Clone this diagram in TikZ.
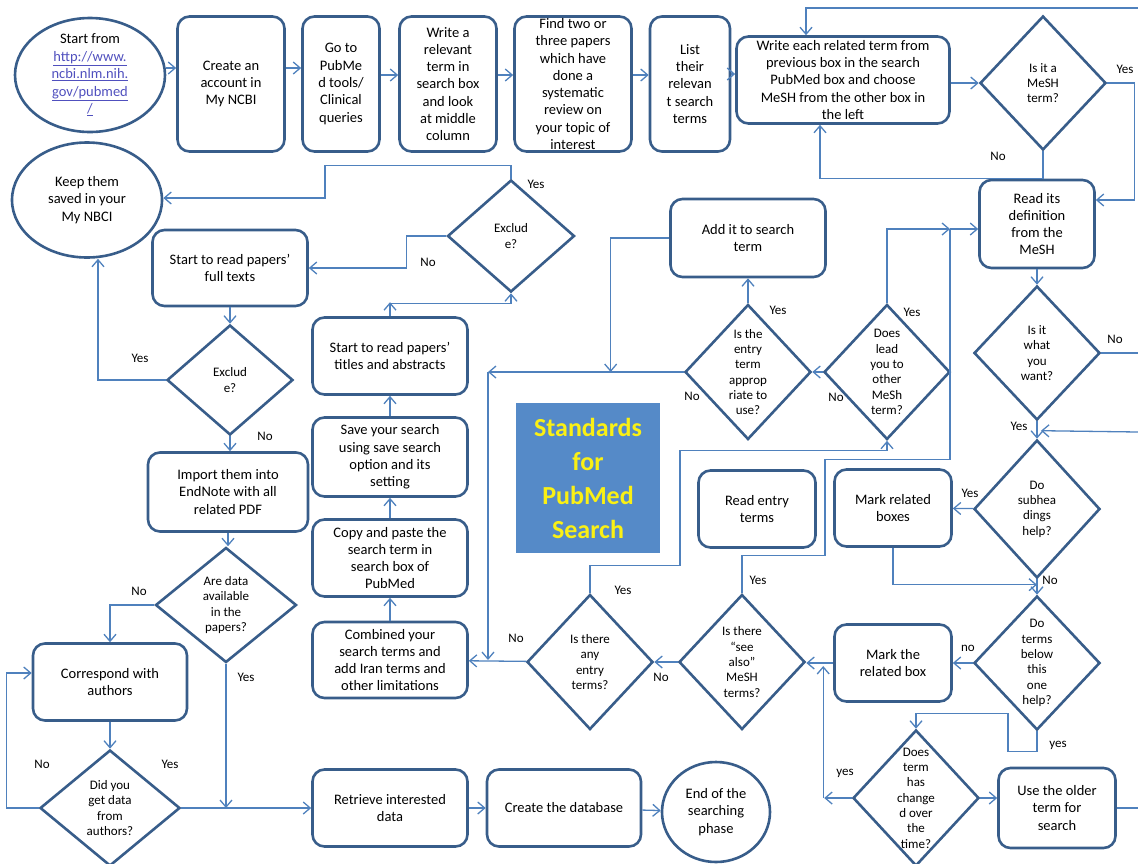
\documentclass[tikz,border=0pt]{standalone}
\usepackage{fontspec}
\setmainfont{Carlito}
\usepackage{xcolor}
\usepackage{tikz}
\usetikzlibrary{arrows.meta,shapes.geometric}
\definecolor{boxc}{RGB}{56,93,138}
\definecolor{linec}{RGB}{79,129,189}
\definecolor{stdfill}{RGB}{85,138,200}
\definecolor{stdtext}{RGB}{250,240,20}
\definecolor{linkc}{RGB}{80,80,190}

\begin{document}
\begin{tikzpicture}[x=1pt,y=-1pt]
    \tikzstyle{box}=[draw=boxc, line width=2.6pt, rounded corners=12pt, align=center, inner sep=2pt, font=\fontsize{14.5}{17.3}\selectfont]
\tikzstyle{dia}=[draw=boxc, line width=2.6pt, diamond, inner sep=0pt]
\tikzstyle{dtext}=[align=center, inner sep=0pt, font=\fontsize{13}{15.3}\selectfont]
\tikzstyle{btext}=[align=center, inner sep=0pt, font=\fontsize{14.5}{17.3}\selectfont]
\tikzstyle{oval}=[draw=boxc, line width=2.6pt, ellipse, inner sep=0pt]
\tikzstyle{lbl}=[inner sep=0pt, font=\fontsize{13}{15}\selectfont]
\tikzstyle{arr}=[draw=linec, line width=1.3pt, -{Straight Barb[length=7pt,width=12pt]}]
\tikzstyle{ln}=[draw=linec, line width=1.3pt]
\tikzstyle{std}=[fill=stdfill, text=stdtext, align=center, font=\fontsize{26}{34}\selectfont\bfseries]
\useasboundingbox (0,0) rectangle (1138,863);
\node[oval, minimum width=150, minimum height=114,
    label={[btext, font=\fontsize{14.5}{17.5}\selectfont]center:{Start from\\
    \textcolor{linkc}{\underline{http://www.}}\\
    \textcolor{linkc}{\underline{ncbi.nlm.nih.}}\\
    \textcolor{linkc}{\underline{gov/pubmed}}\\
    \textcolor{linkc}{\underline{/}}}}] (start) at (90,75) {};
\node[box, minimum width=107, minimum height=135] (account) at (231,84) {Create an\\account in\\My NCBI};
\node[box, minimum width=77, minimum height=135] (pubmed) at (341,84) {Go to\\PubMe\\d tools/\\Clinical\\queries};
\node[box, minimum width=97, minimum height=135] (relevant) at (448,84) {Write a\\relevant\\term in\\search box\\and look\\at middle\\column};
\node[box, minimum width=117, minimum height=135, label={[btext]center:{Find two or\\three papers\\which have\\done a\\systematic\\review on\\your topic of\\interest}}] (papers) at (573,84) {};
\node[box, minimum width=80, minimum height=135] (list) at (690,84) {List\\their\\relevan\\t search\\terms};
\node[box, minimum width=213, minimum height=87] (related) at (843,80) {Write each related term from\\previous box in the search\\PubMed box and choose\\MeSH from the other box in\\the left};
\node[dia, minimum width=126, minimum height=134, label={[dtext]center:{Is it a\\MeSH\\term?}}] (mesh) at (1043,83) {};
\node[box, minimum width=115, minimum height=88] (define) at (1037,224) {Read its\\definition\\from the\\MeSH};
\node[dia, minimum width=126, minimum height=134, label={[dtext]center:{Is it\\what\\you\\want?}}] (want) at (1037,353) {};
\node[dia, minimum width=126, minimum height=138, label={[dtext]center:{Do\\subhea\\dings\\help?}}] (subh) at (1037,509) {};
\node[dia, minimum width=126, minimum height=134, label={[dtext]center:{Do\\terms\\below\\this\\one\\help?}}] (below) at (1037,663) {};
\node[dia, minimum width=126, minimum height=136, label={[dtext]center:{Does\\term\\has\\change\\d over\\the\\time?}}] (changed) at (916,798) {};
\node[box, minimum width=117, minimum height=80] (older) at (1057,808) {Use the older\\term for\\search};
\node[box, minimum width=117, minimum height=77] (markrel) at (893,508) {Mark related\\boxes};
\node[box, minimum width=117, minimum height=77] (markthe) at (893,663) {Mark the\\related box};
\node[box, minimum width=117, minimum height=77] (readentry) at (757,509) {Read entry\\terms};
\node[box, minimum width=155, minimum height=78] (addit) at (748,238) {Add it to search\\term};
\node[dia, minimum width=126, minimum height=135, label={[dtext]center:{Is the\\entry\\term\\approp\\riate to\\use?}}] (entry) at (748,372) {};
\node[dia, minimum width=126, minimum height=135, label={[dtext]center:{Does\\lead\\you to\\other\\MeSh\\term?}}] (lead) at (887,372) {};
\node[dia, minimum width=126, minimum height=135, label={[dtext]center:{Is there\\any\\entry\\terms?}}] (anyentry) at (590,662) {};
\node[dia, minimum width=126, minimum height=135, label={[dtext]center:{Is there\\“see\\also”\\MeSH\\terms?}}] (seealso) at (742,662) {};
\node[std, minimum width=144, minimum height=150] (title) at (588,478) {Standards\\for\\PubMed\\Search};
\node[oval, minimum width=150, minimum height=115, label={[btext]center:{Keep them\\saved in your\\My NBCI}}] (keep) at (87,200) {};
\node[dia, minimum width=127, minimum height=112, label={[dtext]center:{Exclud\\e?}}] (excl1) at (511,236) {};
\node[box, minimum width=155, minimum height=76] (fulltext) at (230,268) {Start to read papers’\\full texts};
\node[dia, minimum width=126, minimum height=110, label={[dtext]center:{Exclud\\e?}}] (excl2) at (230,380) {};
\node[box, minimum width=160, minimum height=79] (import) at (228,492) {Import them into\\EndNote with all\\related PDF};
\node[dia, minimum width=141, minimum height=115, label={[dtext]center:{Are data\\available\\in the\\papers?}}] (avail) at (226,605) {};
\node[box, minimum width=154, minimum height=77] (correspond) at (110,682) {Correspond with\\authors};
\node[dia, minimum width=140, minimum height=116, label={[dtext]center:{Did you\\get data\\from\\authors?}}] (didyou) at (110,808) {};
\node[box, minimum width=155, minimum height=77] (titles) at (390,356) {Start to read papers’\\titles and abstracts};
\node[box, minimum width=155, minimum height=79] (save) at (390,457) {Save your search\\using save search\\option and its\\setting};
\node[box, minimum width=155, minimum height=77] (copy) at (390,558) {Copy and paste the\\search term in\\search box of\\PubMed};
\node[box, minimum width=155, minimum height=76] (combined) at (390,660) {Combined your\\search terms and\\add Iran terms and\\other limitations};
\node[box, minimum width=155, minimum height=77] (retrieve) at (390,808) {Retrieve interested\\data};
\node[box, minimum width=154, minimum height=77] (database) at (564,808) {Create the database};
\node[oval, minimum width=108, minimum height=100, label={[btext]center:{End of the\\searching\\phase}}] (endp) at (716,812) {};
\node[lbl] (meshyes) at (1125,69) {Yes};
\node[lbl] (meshno) at (998,156) {No};
\node[lbl] (excl1yes) at (536,184) {Yes};
\node[lbl] (excl1no) at (428,262) {No};
\node[lbl] (excl2yes) at (140,358) {Yes};
\node[lbl] (excl2no) at (265,436) {No};
\node[lbl] (entryyes) at (778,310) {Yes};
\node[lbl] (entryno) at (692,396) {No};
\node[lbl] (leadyes) at (912,312) {Yes};
\node[lbl] (leadno) at (836,397) {No};
\node[lbl] (wantno) at (1115,339) {No};
\node[lbl] (wantyes) at (1019,426) {Yes};
\node[lbl] (subhyes) at (970,493) {Yes};
\node[lbl] (subhno) at (1050,580) {No};
\node[lbl] (belowno) at (968,648) {no};
\node[lbl] (belowyes) at (1058,745) {yes};
\node[lbl] (changedyes) at (845,773) {yes};
\node[lbl] (anyno) at (516,638) {No};
\node[lbl] (anyyes) at (623,590) {Yes};
\node[lbl] (seeno) at (661,677) {No};
\node[lbl] (seeyes) at (758,580) {Yes};
\node[lbl] (availno) at (139,591) {No};
\node[lbl] (availyes) at (246,677) {Yes};
\node[lbl] (didno) at (42,764) {No};
\node[lbl] (didyes) at (170,764) {Yes};
\coordinate (topin) at (1138,8);
\coordinate (wantout) at (1138,353);
\coordinate (backin) at (1138,432);
\coordinate (olderout) at (1138,808);
\coordinate (jn) at (950,229);
\coordinate (jl) at (488,372);
\draw[arr] ([yshift=7]start.east) -- ([yshift=16]account.west);
\draw[arr] ([yshift=16]account.east) -- ([yshift=16]pubmed.west);
\draw[arr] ([yshift=9]pubmed.east) -- ([yshift=9]relevant.west);
\draw[arr] ([yshift=9]relevant.east) -- ([yshift=9]papers.west);
\draw[arr] ([yshift=9]papers.east) -- ([yshift=9]list.west);
\draw[arr] ([yshift=10]list.east) -- ([yshift=6]related.west);
\draw[arr] (related.east |- mesh.west) -- (mesh.west);
\draw[arr] (topin) -| ([xshift=-37]related.north);
\draw[arr] (mesh.south) -- ++(0,27) -| ([xshift=-23]related.south);
\draw[arr] (mesh.east) -- ++(27,0) |- ([yshift=24]define.east);
\draw[arr] (define) -- (want);
\draw[ln] (want.east) -- (wantout);
\draw[arr] (want) -- (subh);
\draw[arr] (backin) -- ([xshift=4,yshift=8]subh.north);
\draw[arr] (subh) -- (markrel);
\draw[arr] (subh) -- (below);
\draw[arr] (markrel.south) |- ([yshift=10]below.north);
\draw[arr] (below) -- (markthe);
\draw[arr] (markthe.west) -- (markthe.west -| seealso.east);
\draw[arr] (below.south) -- ++(0,20) -- ++(-29,0) -- ++(0,-38) -| (changed.north);
\draw[arr] (changed.west) -- ([xshift=-9]changed.west -| markthe.west);
\draw[arr] ([xshift=-10]changed.west -| markthe.west) -- ([xshift=-10,yshift=-3]markthe.west);
\draw[arr] (changed.east) -- (changed.east -| older.west);
\draw[ln] (older.east) -- (olderout);
\draw[arr] (lead.north) |- (jn);
\draw[arr] (jn) -- ([yshift=-5]define.west);
\draw[ln] (seealso.north) -- ++(0,-38) -- ++(83,0) -- ++(0,-96) -- ++(125,0) -- (jn);
\draw[arr] (anyentry.north) -- ++(0,-28) -- ++(90,0) -- ++(0,-115) -| (lead.south);
\draw[arr] (lead) -- (entry);
\draw[arr] (entry) -- (addit);
\draw[arr] (entry.west) -- (jl);
\draw[arr] (jl) -- (jl |- combined.east);
\draw[arr] (addit.west) -| ([xshift=-73]entry.west);
\draw[arr] (anyentry) -- (combined);
\draw[arr] (seealso) -- (anyentry);
\draw[arr] (combined) -- (copy);
\draw[arr] (copy) -- (save);
\draw[arr] (save) -- (titles);
\draw[arr] (titles.north) -- ++(0,-14);
\draw[arr] ([yshift=13]titles.north) -| (excl1.south);
\draw[arr] (excl1.north) -- ++(0,-13) -- ++(-186,0) |- ([yshift=2]keep.east);
\draw[arr] (excl1.west) -- ++(-40,0) |- (fulltext.east);
\draw[arr] (fulltext.south) -- (fulltext.south |- excl2.north);
\draw[arr] (excl2.west) -| ([xshift=11]keep.south);
\draw[arr] (excl2.south) -- (excl2.south |- import.north);
\draw[arr] (import.south) -- (import.south |- avail.north);
\draw[arr] (avail.west) -| (correspond.north);
\draw[arr] (avail.south) -- (avail.south |- retrieve.west);
\draw[arr] (correspond) -- (didyou);
\draw[arr] (didyou.west) -- ++(-32,0) |- ([yshift=9]correspond.west);
\draw[arr] (didyou) -- (retrieve);
\draw[arr] (retrieve) -- (database);
\draw[arr] (database) -- (endp);
\end{tikzpicture}
\end{document}
